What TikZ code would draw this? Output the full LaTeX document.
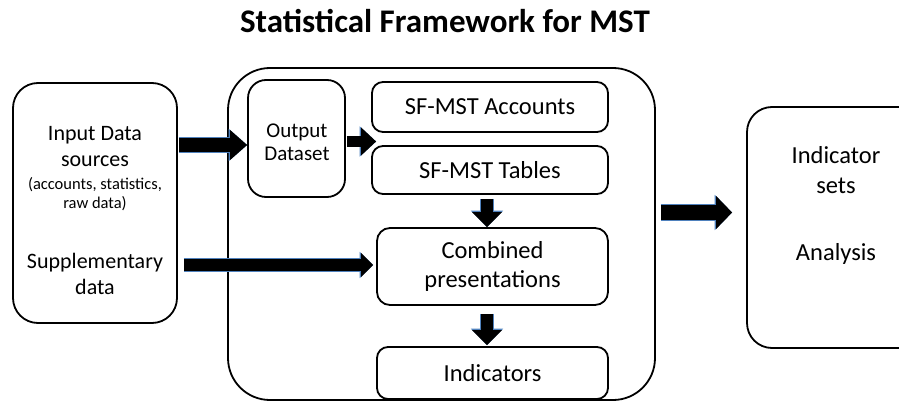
\documentclass[tikz,border=0pt]{standalone}
\usepackage{fontspec}
\setmainfont{Carlito}
\usetikzlibrary{arrows.meta,calc}
\definecolor{edgeblue}{RGB}{79,129,189}
\tikzset{
  box/.style={draw=black, line width=1.8pt, inner sep=0pt, align=center},
  big/.style={font=\fontsize{24.5pt}{29pt}\selectfont},
  mid/.style={font=\fontsize{22pt}{26pt}\selectfont},
  % shaft, head width, head length, outline shaft, outline head width, outline head length
  barrow/.style n args={6}{
    preaction={draw=edgeblue, line width=#4, -{Triangle[length=#6, width=#5, line width=0pt]}},
    draw=black, line width=#1, -{Triangle[length=#3, width=#2, line width=0pt]}
  }
}
\begin{document}
\begin{tikzpicture}[x=1pt,y=-1pt]
\useasboundingbox (0,0) rectangle (899,401);
\clip (0,0) rectangle (899,401);

\node[font=\bfseries\fontsize{33pt}{36pt}\selectfont, anchor=base] (title) at (445,33) {Statistical Framework for MST};

% boxes
\node[box, minimum width=164pt, minimum height=240pt, rounded corners=25pt] (inbox) at (95,203) {};
\node[box, minimum width=427pt, minimum height=332pt, rounded corners=42pt] (bigbox) at (441.5,234) {};
\node[box, minimum width=97pt, minimum height=117pt, rounded corners=18pt] (out) at (296.5,138.5) {};
\node[box, big, minimum width=236pt, minimum height=50pt, rounded corners=11pt] (acc) at (490,107) {SF-MST Accounts};
\node[box, big, minimum width=236pt, minimum height=48pt, rounded corners=11pt] (tab) at (490,170) {SF-MST Tables};
\node[box, big, minimum width=231pt, minimum height=77pt, rounded corners=13pt] (comb) at (492.5,266.5) {Combined\\presentations};
\node[box, big, minimum width=231pt, minimum height=52pt, rounded corners=11pt] (ind) at (492.5,373) {Indicators};
\node[box, minimum width=178pt, minimum height=241pt, rounded corners=25pt] (rbox) at (836,227.5) {};

% text in output box
\node[align=center, font=\fontsize{21pt}{23pt}\selectfont] (outtxt) at (297,142) {Output\\Dataset};

% texts in left box
\node[mid, align=center] (intxt) at (95,147) {Input Data\\sources};
\node[align=center, font=\fontsize{16.5pt}{19pt}\selectfont] (insmall) at (95,194.5) {(accounts, statistics,\\raw data)};
\node[mid, align=center] (supp) at (95,274) {Supplementary\\data};

% texts in right box
\node[align=center, font=\fontsize{24.5pt}{30pt}\selectfont] (indsets) at (836,170) {Indicator\\sets};
\node[big] (analysis) at (836,254) {Analysis};

% arrows
\draw[barrow={14pt}{30pt}{17pt}{15.6pt}{32.4pt}{18.4pt}]
  ($(inbox.east |- out.west)+(1,6.5)$) -- ($(out.west)+(0,6.5)$);
\draw[barrow={10pt}{28pt}{15pt}{11.6pt}{30.4pt}{16.4pt}]
  ($(out.east)+(1,3)$) -- ($(acc.west |- out.east)+(5,3)$);
\draw[barrow={12pt}{24pt}{12pt}{13.6pt}{26.4pt}{13.4pt}]
  ($(inbox.east |- comb.west)+(6,-1.5)$) -- ($(comb.west)+(-3,-1.5)$);
\draw[barrow={12pt}{30pt}{15pt}{13.6pt}{32.4pt}{16.4pt}]
  ($(comb.north |- tab.south)+(-5.5,4)$) -- ($(comb.north)+(-5.5,0)$);
\draw[barrow={12pt}{30pt}{15pt}{13.6pt}{32.4pt}{16.4pt}]
  ($(comb.south)+(-5.5,8)$) -- ($(ind.north)+(-5.5,-1)$);
\draw[barrow={15pt}{33pt}{16pt}{16.6pt}{35.4pt}{17.4pt}]
  ($(bigbox.east |- rbox.west)+(5,-15)$) -- ($(rbox.west)+(-14,-15)$);
\end{tikzpicture}
\end{document}
